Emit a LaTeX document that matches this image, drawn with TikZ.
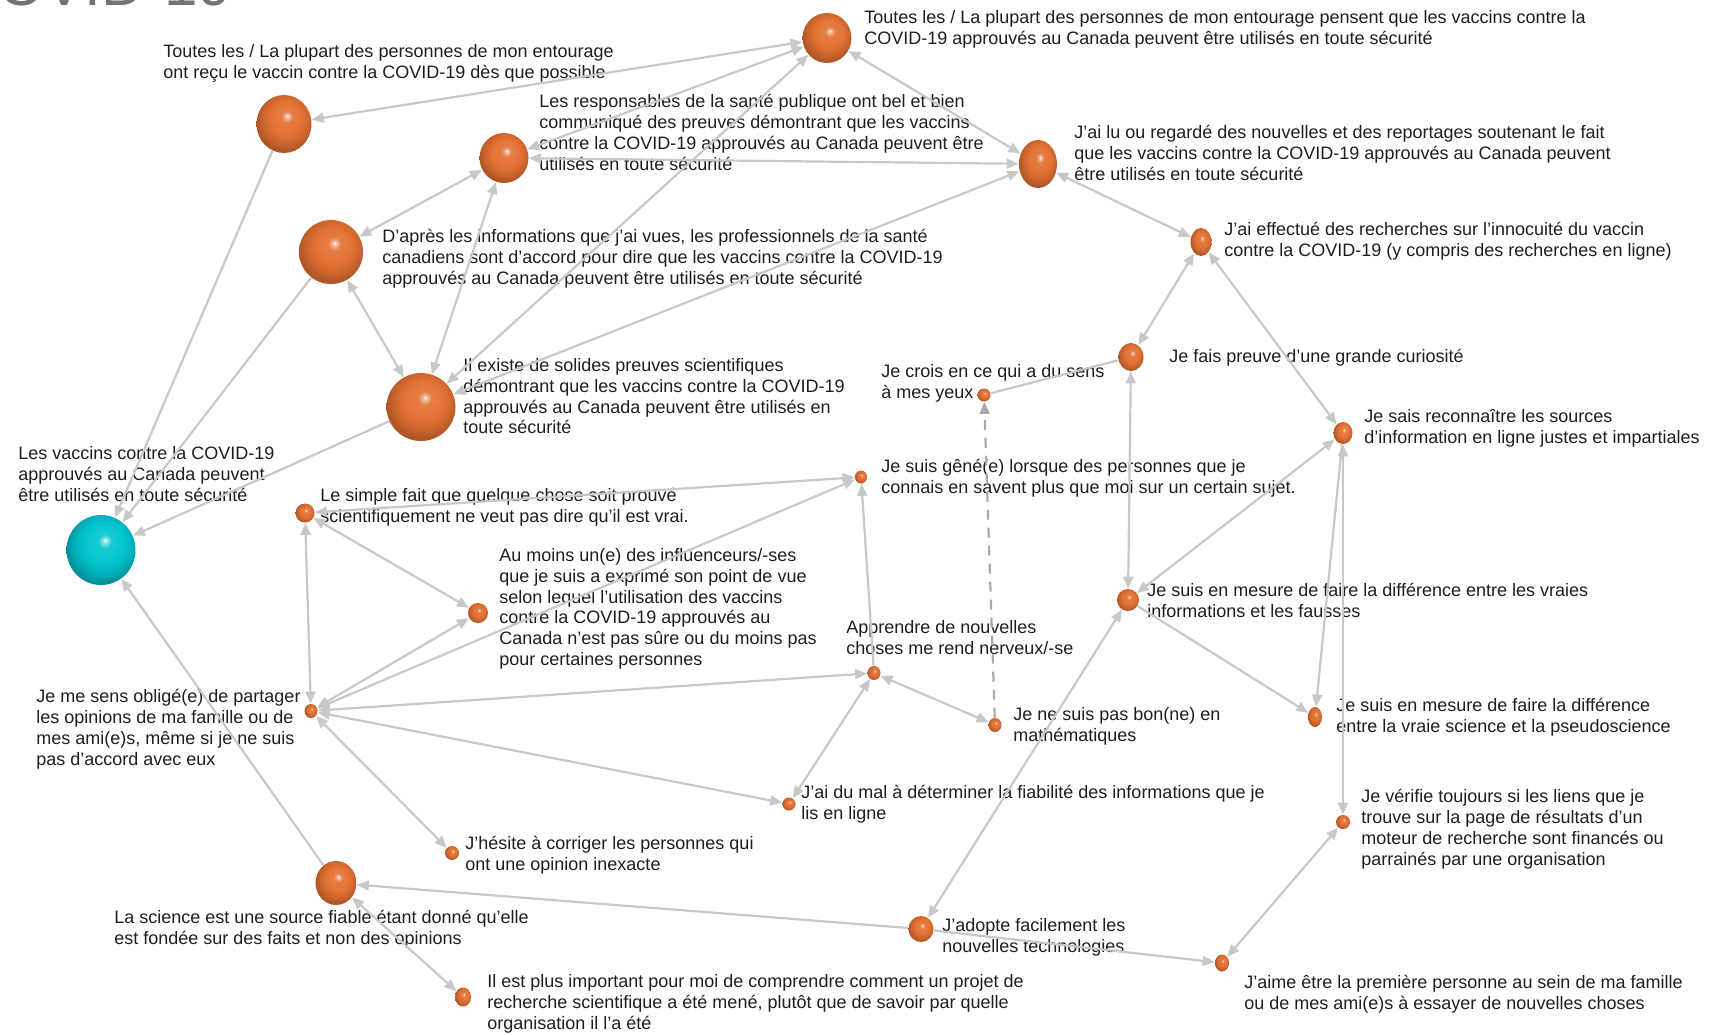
\documentclass[tikz,border=0pt]{standalone}
\usepackage{fontspec}
\setmainfont{Liberation Sans}
\usetikzlibrary{arrows.meta,shapes.geometric}
\definecolor{VCorange}{RGB}{226,112,50}
\definecolor{VCcyan}{RGB}{0,196,206}
\definecolor{VCedge}{RGB}{200,200,200}
\definecolor{VCdash}{RGB}{170,170,170}
\definecolor{VCtext}{RGB}{30,30,30}
\definecolor{VCtitle}{RGB}{115,115,115}
\pgfdeclareradialshading{orbor}{\pgfpoint{3bp}{7bp}}{%
  color(0bp)=(white); color(1.5bp)=(VCorange!45!white); color(5bp)=(VCorange!90!white);
  color(15bp)=(VCorange); color(22bp)=(VCorange!88!black); color(26bp)=(VCorange!78!black);
  color(50bp)=(VCorange!78!black)}
\pgfdeclareradialshading{orbcy}{\pgfpoint{3bp}{7bp}}{%
  color(0bp)=(white); color(1.5bp)=(VCcyan!45!white); color(5bp)=(VCcyan!90!white);
  color(15bp)=(VCcyan); color(22bp)=(VCcyan!88!black); color(26bp)=(VCcyan!75!black);
  color(50bp)=(VCcyan!75!black)}
\tikzset{
  orb/.style 2 args={ellipse,inner sep=0pt,minimum width=#1,minimum height=#2,
                     shade,shading=orbor},
  hub/.style 2 args={ellipse,inner sep=0pt,minimum width=#1,minimum height=#2,
                     shade,shading=orbcy},
  lbl/.style={anchor=north west,inner sep=0pt,align=left,text=VCtext,
              font=\fontsize{9}{10.4}\selectfont},
  lk/.style={{Triangle[length=6pt,width=5pt]}-{Triangle[length=6pt,width=5pt]},
             line width=1.1pt,draw=VCedge},
  lkf/.style={-{Triangle[length=6pt,width=5pt]},line width=1.1pt,draw=VCedge},
  lkn/.style={line width=1.1pt,draw=VCedge},
  lkd/.style={-{Triangle[length=6pt,width=5pt]},line width=1.1pt,draw=VCdash,
              dash pattern=on 5pt off 4pt}
}
\begin{document}
\begin{tikzpicture}[x=0.5pt,y=-0.5pt]
  \useasboundingbox (0,0) rectangle (1728,1034);
  \clip (0,0) rectangle (1728,1034);
  % cut-off title
  \node[anchor=base east,inner sep=0pt,text=VCtitle,font=\fontsize{30}{30}\selectfont]
    (title) at (232,5) {COVID-19};

  % spheres
  \node[hub={34.5pt}{35pt}] (vacc) at (101,550) {};
  \node[orb={24.5pt}{25pt}] (pense) at (827,38) {};
  \node[orb={27.5pt}{29pt}] (recu) at (284,124) {};
  \node[orb={24.5pt}{25pt}] (resp) at (504,158) {};
  \node[orb={19pt}{24pt}] (lu) at (1038,164) {};
  \node[orb={32pt}{32pt}] (pro) at (331,252) {};
  \node[orb={34.5pt}{34pt}] (preuve) at (421,407) {};
  \node[orb={10.5pt}{14pt}] (rech) at (1201,242) {};
  \node[orb={12.5pt}{14pt}] (curio) at (1131,357) {};
  \node[orb={6.5pt}{6.5pt}] (croire) at (984,395) {};
  \node[orb={9.5pt}{11pt}] (sources) at (1343,433) {};
  \node[orb={9.5pt}{9.5pt}] (simple) at (305,513) {};
  \node[orb={6pt}{6.5pt}] (gene) at (861,477) {};
  \node[orb={10pt}{10pt}] (influ) at (478,613) {};
  \node[orb={11pt}{11pt}] (vraiinfo) at (1128,600) {};
  \node[orb={6.5pt}{7pt}] (nerv) at (874,673) {};
  \node[orb={6.5pt}{7pt}] (oblige) at (311,711) {};
  \node[orb={6.5pt}{7pt}] (math) at (995,725) {};
  \node[orb={7pt}{10pt}] (pseudo) at (1315,717) {};
  \node[orb={6.5pt}{6.5pt}] (mal) at (789,804) {};
  \node[orb={7pt}{7pt}] (verif) at (1343,822) {};
  \node[orb={7pt}{7pt}] (hesite) at (452,853) {};
  \node[orb={20.5pt}{22pt}] (science) at (336,883) {};
  \node[orb={12.5pt}{13pt}] (techno) at (921,929) {};
  \node[orb={7pt}{8.5pt}] (premiere) at (1222,963) {};
  \node[orb={8pt}{9.5pt}] (import) at (463,997) {};

  % labels
  \node[lbl] (t-pense) at (864,10) {Toutes les / La plupart des personnes de mon entourage pensent que les vaccins contre la\\COVID-19 approuvés au Canada peuvent être utilisés en toute sécurité};
  \node[lbl] (t-recu) at (163,44) {Toutes les / La plupart des personnes de mon entourage\\ont reçu le vaccin contre la COVID-19 dès que possible};
  \node[lbl] (t-resp) at (539,94) {Les responsables de la santé publique ont bel et bien\\communiqué des preuves démontrant que les vaccins\\contre la COVID-19 approuvés au Canada peuvent être\\utilisés en toute sécurité};
  \node[lbl] (t-lu) at (1074,125) {J’ai lu ou regardé des nouvelles et des reportages soutenant le fait\\que les vaccins contre la COVID-19 approuvés au Canada peuvent\\être utilisés en toute sécurité};
  \node[lbl] (t-pro) at (382,229) {D’après les informations que j’ai vues, les professionnels de la santé\\canadiens sont d’accord pour dire que les vaccins contre la COVID-19\\approuvés au Canada peuvent être utilisés en toute sécurité};
  \node[lbl] (t-preuve) at (463,358) {Il existe de solides preuves scientifiques\\démontrant que les vaccins contre la COVID-19\\approuvés au Canada peuvent être utilisés en\\toute sécurité};
  \node[lbl] (t-rech) at (1224,222) {J’ai effectué des recherches sur l’innocuité du vaccin\\contre la COVID-19 (y compris des recherches en ligne)};
  \node[lbl] (t-curio) at (1169,349) {Je fais preuve d’une grande curiosité};
  \node[lbl] (t-croire) at (881,364) {Je crois en ce qui a du sens\\à mes yeux};
  \node[lbl] (t-sources) at (1364,409) {Je sais reconnaître les sources\\d’information en ligne justes et impartiales};
  \node[lbl] (t-vacc) at (18,446) {Les vaccins contre la COVID-19\\approuvés au Canada peuvent\\être utilisés en toute sécurité};
  \node[lbl] (t-simple) at (320,488) {Le simple fait que quelque chose soit prouvé\\scientifiquement ne veut pas dire qu’il est vrai.};
  \node[lbl] (t-gene) at (881,459) {Je suis gêné(e) lorsque des personnes que je\\connais en savent plus que moi sur un certain sujet.};
  \node[lbl] (t-influ) at (499,548) {Au moins un(e) des influenceurs/-ses\\que je suis a exprimé son point de vue\\selon lequel l’utilisation des vaccins\\contre la COVID-19 approuvés au\\Canada n’est pas sûre ou du moins pas\\pour certaines personnes};
  \node[lbl] (t-vraiinfo) at (1147,583) {Je suis en mesure de faire la différence entre les vraies\\informations et les fausses};
  \node[lbl] (t-nerv) at (846,620) {Apprendre de nouvelles\\choses me rend nerveux/-se};
  \node[lbl] (t-oblige) at (36,689) {Je me sens obligé(e) de partager\\les opinions de ma famille ou de\\mes ami(e)s, même si je ne suis\\pas d'accord avec eux};
  \node[lbl] (t-math) at (1013,707) {Je ne suis pas bon(ne) en\\mathématiques};
  \node[lbl] (t-pseudo) at (1336,698) {Je suis en mesure de faire la différence\\entre la vraie science et la pseudoscience};
  \node[lbl] (t-mal) at (801,785) {J’ai du mal à déterminer la fiabilité des informations que je\\lis en ligne};
  \node[lbl] (t-verif) at (1361,789) {Je vérifie toujours si les liens que je\\trouve sur la page de résultats d'un\\moteur de recherche sont financés ou\\parrainés par une organisation};
  \node[lbl] (t-hesite) at (465,836) {J’hésite à corriger les personnes qui\\ont une opinion inexacte};
  \node[lbl] (t-science) at (114,910) {La science est une source fiable étant donné qu’elle\\est fondée sur des faits et non des opinions};
  \node[lbl] (t-techno) at (942,918) {J’adopte facilement les\\nouvelles technologies};
  \node[lbl] (t-premiere) at (1244,975) {J’aime être la première personne au sein de ma famille\\ou de mes ami(e)s à essayer de nouvelles choses};
  \node[lbl] (t-import) at (487,974) {Il est plus important pour moi de comprendre comment un projet de\\recherche scientifique a été mené, plutôt que de savoir par quelle\\organisation il l’a été};

  % links, upper cluster
  \draw[lk] (recu) -- (pense);
  \draw[lk] (resp) -- (pense);
  \draw[lk] (preuve) -- (pense);
  \draw[lk] (pense) -- (lu);
  \draw[lk] (resp) -- (lu);
  \draw[lk] (preuve) -- (lu);
  \draw[lk] (pro) -- (resp);
  \draw[lk] (pro) -- (preuve);
  \draw[lk] (resp) -- (preuve);
  \draw[lkf] (recu) -- (vacc);
  \draw[lkf] (pro) -- (vacc);
  \draw[lkf] (preuve) -- (vacc);
  \draw[lkf] (science) -- (vacc);
  % right cluster
  \draw[lk] (lu) -- (rech);
  \draw[lk] (rech) -- (curio);
  \draw[lk] (rech) -- (sources);
  \draw[lkn] (curio) -- (croire);
  \draw[lkd] (math) -- (croire);
  \draw[lk] (curio) -- (vraiinfo);
  \draw[lk] (vraiinfo) -- (sources);
  \draw[lkf] (vraiinfo) -- (pseudo);
  \draw[lkf] (sources) -- (pseudo);
  \draw[lk] (sources) -- (verif);
  \draw[lk] (verif) -- (premiere);
  \draw[lkf] (techno) -- (premiere);
  \draw[lkf] (techno) -- (science);
  \draw[lk] (vraiinfo) -- (techno);
  \draw[lk] (science) -- (import);
  % left cluster
  \draw[lk] (oblige) -- (simple);
  \draw[lk] (simple) -- (influ);
  \draw[lk] (simple) -- (gene);
  \draw[lk] (oblige) -- (influ);
  \draw[lk] (oblige) -- (gene);
  \draw[lk] (oblige) -- (nerv);
  \draw[lk] (oblige) -- (mal);
  \draw[lk] (oblige) -- (hesite);
  \draw[lkf] (nerv) -- (gene);
  \draw[lk] (nerv) -- (math);
  \draw[lk] (nerv) -- (mal);
\end{tikzpicture}
\end{document}
